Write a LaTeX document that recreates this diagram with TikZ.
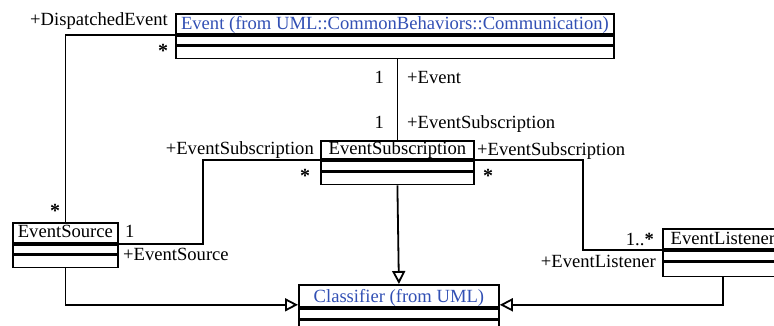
\documentclass[tikz,border=0pt]{standalone}
\usepackage{fontspec}
\setmainfont{Liberation Serif}
\usetikzlibrary{arrows.meta}
\definecolor{umlblue}{RGB}{50,80,180}
\begin{document}
\begin{tikzpicture}[x=1pt,y=-1pt,
  every node/.style={font=\fontsize{18.6}{20}\selectfont},
  box/.style={draw, line width=1.8pt, inner sep=0pt, anchor=north west},
  lbl/.style={inner sep=0pt, anchor=base west},
  rlbl/.style={inner sep=0pt, anchor=base east},
  star/.style={inner sep=0pt, anchor=center, font=\fontsize{20}{20}\selectfont\bfseries},
  conn/.style={line width=1.8pt},
  gen/.style={line width=1.8pt, -{Triangle[open, length=13pt, width=13pt, fill=white]}}]
\useasboundingbox (0,0) rectangle (774,325);

% Event
\node[box, minimum width=438pt, minimum height=20pt, text height=16pt, text depth=4pt, text=umlblue] (ev) at (175,13) {Event (from UML::CommonBehaviors::Communication)};
\node[box, minimum width=438pt, minimum height=9pt] (ev2) at (ev.south west) {};
\node[box, minimum width=438pt, minimum height=12pt] (ev3) at (ev2.south west) {};

% EventSubscription
\node[box, minimum width=153pt, minimum height=18pt, text height=14pt, text depth=4pt] (ess) at (320,140) {EventSubscription};
\node[box, minimum width=153pt, minimum height=10pt] (ess2) at (ess.south west) {};
\node[box, minimum width=153pt, minimum height=12pt] (ess3) at (ess2.south west) {};

% EventSource
\node[box, minimum width=105pt, minimum height=20pt, text height=15pt, text depth=5pt] (es) at (12,222) {EventSource};
\node[box, minimum width=105pt, minimum height=9pt] (es2) at (es.south west) {};
\node[box, minimum width=105pt, minimum height=12pt] (es3) at (es2.south west) {};

% EventListener
\node[box, minimum width=120pt, minimum height=20pt, text height=16pt, text depth=4pt] (el) at (662,228) {EventListener};
\node[box, minimum width=120pt, minimum height=10pt] (el2) at (el.south west) {};
\node[box, minimum width=120pt, minimum height=14pt] (el3) at (el2.south west) {};

% Classifier
\node[box, minimum width=200pt, minimum height=22pt, text height=18pt, text depth=4pt, text=umlblue] (cl) at (298,284) {Classifier (from UML)};
\node[box, minimum width=200pt, minimum height=10pt] (cl2) at (cl.south west) {};
\node[box, minimum width=200pt, minimum height=14pt] (cl3) at (cl2.south west) {};

% connectors
\coordinate (kl) at (203,200);
\coordinate (kr) at (583,200);
\draw[conn] (es.north) |- (ev.south west);
\draw[conn] (ev3.south -| ess.north) -- (ess.north);
\draw[conn] (ess.south west) -- (ess.south west -| kl) |- (es.south east);
\draw[conn] (ess.south east) -- (ess.south east -| kr) |- (el.south west);
\draw[gen] (ess3.south) -- (cl.north);
\draw[gen] (es3.south) |- ([yshift=3pt]cl.south west);
\draw[gen] (el3.south) |- ([yshift=3pt]cl.south east);

% labels
\node[lbl] (lDisp) at (30,25) {+DispatchedEvent};
\node[star] (mDisp) at (163,50.5) {*};
\node[rlbl] (m1a) at (384,83) {1};
\node[lbl] (rEv) at (407,83) {+Event};
\node[rlbl] (m1b) at (384,128) {1};
\node[lbl] (rSub) at (407,128) {+EventSubscription};
\node[rlbl] (rSubL) at (314,154) {+EventSubscription};
\node[star] (mSubL) at (305,175.5) {*};
\node[lbl] (rSubR) at (477,155) {+EventSubscription};
\node[star] (mSubR) at (488,175.5) {*};
\node[rlbl] (mL) at (654,245) {1..\textbf{*}};
\node[rlbl] (rL) at (656,267) {+EventListener};
\node[star] (mSrc) at (55,210.5) {*};
\node[lbl] (mS1) at (125,237) {1};
\node[lbl] (rSrc) at (123,260) {+EventSource};
\end{tikzpicture}
\end{document}
